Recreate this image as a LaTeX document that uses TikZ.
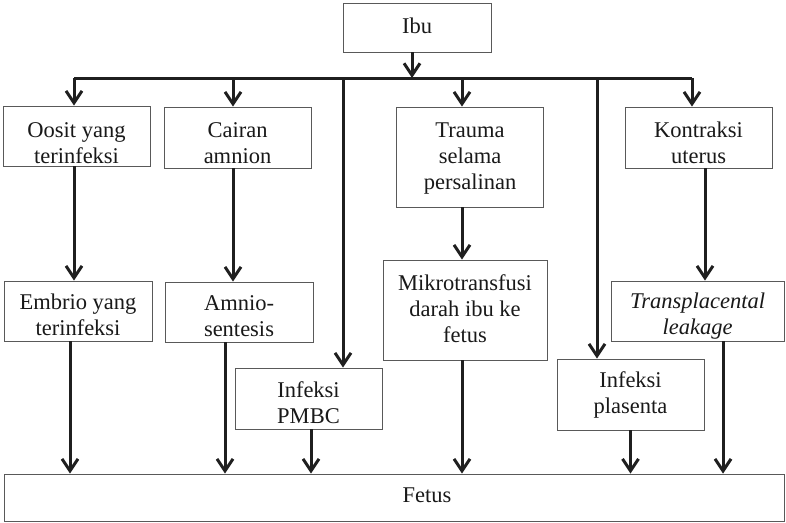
\documentclass[tikz,border=0pt]{standalone}
\usepackage{fontspec}
\setmainfont{Liberation Serif}
\usetikzlibrary{arrows.meta,fit}
\tikzset{
  box/.style={draw=black!65, line width=0.8pt, fill=white, inner sep=0pt},
  txt/.style={align=center, anchor=base, inner sep=0pt, font=\fontsize{22.5}{26}\selectfont, text=black!90},
  conn/.style={draw=black!88, line width=3pt},
  arr/.style={conn, -{Straight Barb[length=12pt,width=16pt]}},
}
\begin{document}
\begin{tikzpicture}[x=1pt,y=-1pt]
\useasboundingbox (0,0) rectangle (786,522);
% boxes
\node[box, fit={(343,3) (491,52)}] (ibu) {};
\node[box, fit={(3,106) (150,166)}] (oosit) {};
\node[box, fit={(164,107) (311,168)}] (cairan) {};
\node[box, fit={(396,107) (543,207)}] (trauma) {};
\node[box, fit={(625,107) (772,168)}] (kontraksi) {};
\node[box, fit={(4,281) (152,341)}] (embrio) {};
\node[box, fit={(165,282) (313,342)}] (amnio) {};
\node[box, fit={(383,260) (547,360)}] (mikro) {};
\node[box, fit={(611,281) (784,341)}] (transp) {};
\node[box, fit={(235,368) (382,429)}] (pmbc) {};
\node[box, fit={(557,359) (704,430)}] (plasenta) {};
\node[box, fit={(4,474) (784,521)}] (fetus) {};
% texts (anchor = baseline of last line)
\node[txt] (ibu-t) at (417,33) {Ibu};
\node[txt] (oosit-t) at (76.5,163) {Oosit yang\\terinfeksi};
\node[txt] (cairan-t) at (237.5,163) {Cairan\\amnion};
\node[txt] (trauma-t) at (470,189) {Trauma\\selama\\persalinan};
\node[txt] (kontraksi-t) at (698.5,163) {Kontraksi\\uterus};
\node[txt] (embrio-t) at (78,335) {Embrio yang\\terinfeksi};
\node[txt] (amnio-t) at (239,336) {Amnio-\\sentesis};
\node[txt] (mikro-t) at (465,342) {Mikrotransfusi\\darah ibu ke\\fetus};
\node[txt] (transp-t) at (697.5,334) {\itshape Transplacental\\\itshape leakage};
\node[txt] (pmbc-t) at (308.5,423) {Infeksi\\PMBC};
\node[txt] (plasenta-t) at (630.5,413) {Infeksi\\plasenta};
\node[txt] (fetus-t) at (427,502) {Fetus};
% bus
\coordinate (b0) at (412,78);
\coordinate (b1) at (74,78);
\coordinate (b2) at (233,78);
\coordinate (b3) at (343,78);
\coordinate (b4) at (462,78);
\coordinate (b5) at (597,78);
\coordinate (b6) at (692,78);
\draw[conn] (b1) -- (b6);
\draw[arr] (b0 |- ibu.south) -- (b0);
\draw[arr] (b1) -- (b1 |- oosit.north);
\draw[arr] (b2) -- (b2 |- cairan.north);
\draw[arr] (b3) -- (b3 |- pmbc.north);
\draw[arr] (b4) -- (b4 |- trauma.north);
\draw[arr] (b5) -- (b5 |- plasenta.north);
\draw[arr] (b6) -- (b6 |- kontraksi.north);
% second level
\draw[arr] (b1 |- oosit.south) -- (b1 |- embrio.north);
\draw[arr] (b2 |- cairan.south) -- (b2 |- amnio.north);
\draw[arr] (b4 |- trauma.south) -- (b4 |- mikro.north);
\draw[arr] ([xshift=6.5pt]kontraksi.south) -- ([xshift=6.5pt]kontraksi.south |- transp.north);
% to fetus
\draw[arr] ([xshift=-8pt]embrio.south) -- ([xshift=-8pt]embrio.south |- fetus.north);
\draw[arr] ([xshift=-14pt]amnio.south) -- ([xshift=-14pt]amnio.south |- fetus.north);
\draw[arr] ([xshift=2.5pt]pmbc.south) -- ([xshift=2.5pt]pmbc.south |- fetus.north);
\draw[arr] ([xshift=-3pt]mikro.south) -- ([xshift=-3pt]mikro.south |- fetus.north);
\draw[arr] (plasenta.south) -- (plasenta.south |- fetus.north);
\draw[arr] ([xshift=25.5pt]transp.south) -- ([xshift=25.5pt]transp.south |- fetus.north);
\end{tikzpicture}
\end{document}
